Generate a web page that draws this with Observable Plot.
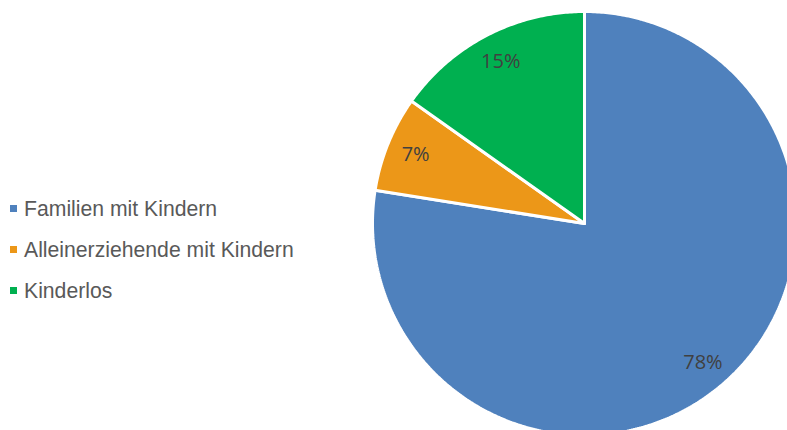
<!DOCTYPE html>
<html><head><meta charset="utf-8">
<script src="https://cdn.jsdelivr.net/npm/d3@7"></script>
<script src="https://cdn.jsdelivr.net/npm/@observablehq/plot@0.6"></script>
<style>
html,body{margin:0;padding:0;overflow:hidden;background:#fff;}
#wrap{position:relative;width:787px;height:430px;}
#legend{position:absolute;left:10px;top:188px;font-family:"Liberation Sans",Arial,sans-serif;font-size:21.2px;color:#595959;}
#legend div{height:41px;display:flex;align-items:center;white-space:nowrap;}
#legend span.sw{display:inline-block;width:7px;height:7px;margin-right:7px;}
</style></head>
<body><div id="wrap"><div id="chart"></div><div id="legend"></div></div>
<script>
const categories = ["Familien mit Kindern", "Alleinerziehende mit Kindern", "Kinderlos"];
const values = [77.5, 7.3, 15.2];
const colors = ["#4F81BD", "#EC9718", "#00B050"];
const labels = ["78%", "7%", "15%"];

const pie = d3.pie().sort(null).value(d => d.value);
const arcs = pie(categories.map((c, i) => ({category: c, value: values[i], label: labels[i]})));

// polygon outline for each slice in unit-circle coordinates
const outline = [];
arcs.forEach(a => {
  outline.push({category: a.data.category, x: 0, y: 0});
  const n = Math.max(2, Math.ceil((a.endAngle - a.startAngle) / 0.01));
  for (let k = 0; k <= n; k++) {
    const t = a.startAngle + (a.endAngle - a.startAngle) * k / n;
    outline.push({category: a.data.category, x: Math.sin(t), y: Math.cos(t)});
  }
  outline.push({category: a.data.category, x: 0, y: 0});
});
const labelPos = arcs.map(a => {
  const t = (a.startAngle + a.endAngle) / 2;
  const r = 0.86;
  return {label: a.data.label, x: r * Math.sin(t), y: r * Math.cos(t)};
});

const cx = 584, cy = 223, R = 212;
const plot = Plot.plot({
  width: 787, height: 430,
  margin: 0,
  x: {domain: [-1, 1], range: [cx - R, cx + R], axis: null},
  y: {domain: [-1, 1], range: [cy + R, cy - R], axis: null},
  color: {domain: categories, range: colors},
  marks: [
    Plot.line(outline, {x: "x", y: "y", z: "category", fill: "category", stroke: "white", strokeWidth: 3, strokeLinejoin: "miter", curve: "linear"}),
    Plot.text(labelPos, {x: "x", y: "y", text: "label", fill: "#404040", fontSize: 20, fontFamily: "Open Sans, sans-serif"})
  ]
});
plot.style.overflow = "hidden";
document.getElementById("chart").appendChild(plot);

const lg = document.getElementById("legend");
categories.forEach((c, i) => {
  const row = document.createElement("div");
  const sw = document.createElement("span");
  sw.className = "sw"; sw.style.background = colors[i];
  row.appendChild(sw);
  row.appendChild(document.createTextNode(c));
  lg.appendChild(row);
});
</script></body></html>
